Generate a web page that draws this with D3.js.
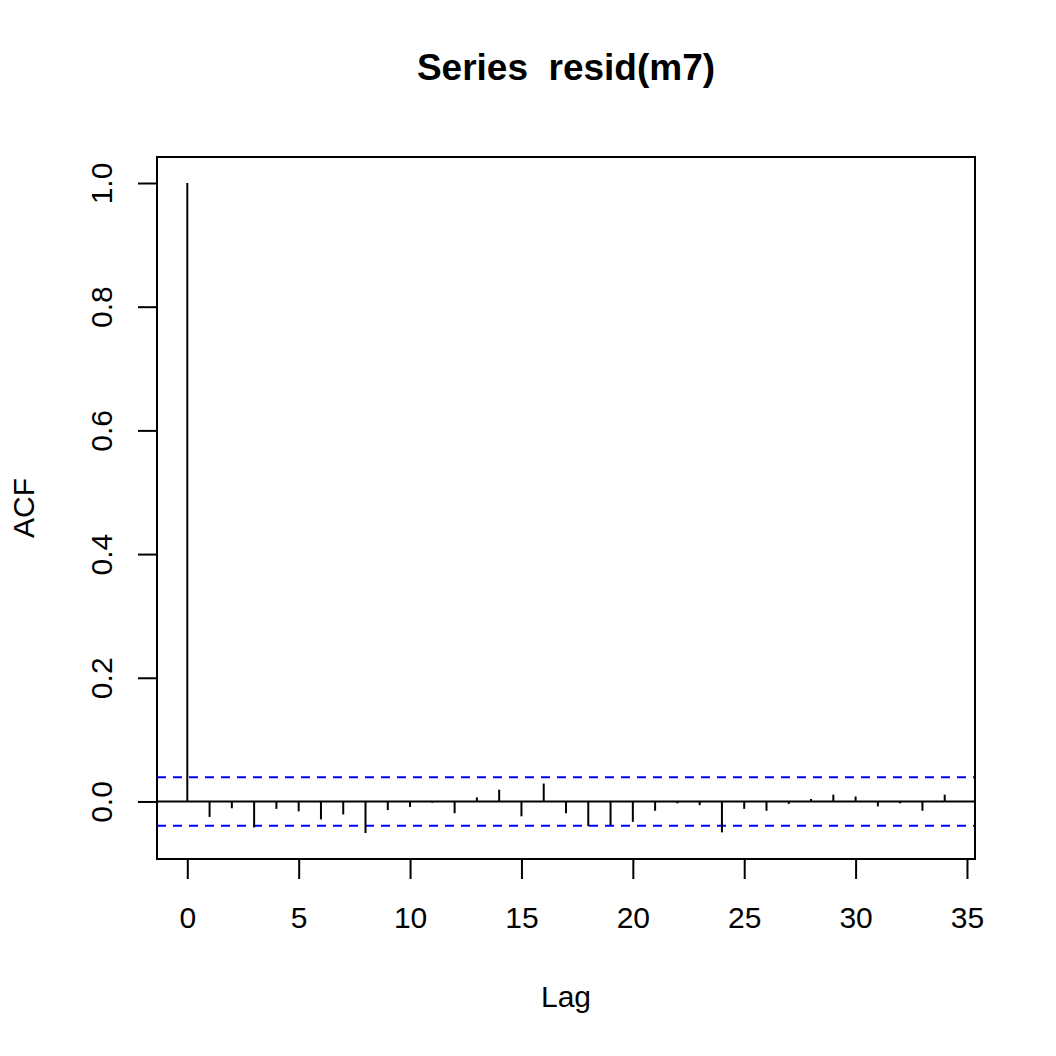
<!DOCTYPE html>
<html>
<head>
<meta charset="utf-8">
<script src="https://cdn.jsdelivr.net/npm/d3@7"></script>
<style>
body { margin: 0; background: #fff; }
text { font-family: "Liberation Sans", Arial, sans-serif; fill: #000; }
</style>
</head>
<body>
<script>
// acf values, lag 0..34
var lags = d3.range(0, 35);
var acfValues = [1.0, -0.025, -0.011, -0.042, -0.012, -0.016, -0.029, -0.021, -0.051, -0.014,
                 -0.009, -0.002, -0.019, 0.0065, 0.019, -0.024, 0.029, -0.019, -0.040, -0.038,
                 -0.033, -0.015, -0.003, -0.006, -0.050, -0.012, -0.015, -0.004, 0.004, 0.011,
                 0.008, -0.008, -0.003, -0.015, 0.011];
var ciLimit = 0.0393;
var xTicks = [0, 5, 10, 15, 20, 25, 30, 35];
var yTicks = [0.0, 0.2, 0.4, 0.6, 0.8, 1.0];
var titleText = 'Series  resid(m7)';

var width = 1056;
var height = 1056;
var pLeft = 157, pRight = 975, pTop = 157, pBottom = 859;

var svg = d3.select('body')
			.append('svg')
			.attr('width', width)
			.attr('height', height);

// R style 4% padding
var xr = d3.extent(lags);
var xpad = (xr[1] - xr[0]) * 0.04;
var xScale = d3.scaleLinear()
				.domain([xr[0] - xpad, xr[1] + xpad])
				.range([pLeft, pRight]);
var yr = [d3.min(acfValues.concat([-ciLimit])), d3.max(acfValues.concat([ciLimit]))];
var ypad = (yr[1] - yr[0]) * 0.04;
var yScale = d3.scaleLinear()
				.domain([yr[0] - ypad, yr[1] + ypad])
				.range([pBottom, pTop]);

// zero line and confidence lines
svg.append('line')
	.attr('x1', pLeft).attr('x2', pRight)
	.attr('y1', yScale(0)).attr('y2', yScale(0))
	.style('stroke', '#000').style('stroke-width', 2);
svg.selectAll('.ci')
	.data([ciLimit, -ciLimit])
	.enter()
	.append('line')
	.attr('x1', pLeft).attr('x2', pRight)
	.attr('y1', (d) => yScale(d)).attr('y2', (d) => yScale(d))
	.style('stroke', '#0000ff')
	.style('stroke-width', 2)
	.style('stroke-dasharray', '9,7');

// spikes
svg.selectAll('.spike')
	.data(lags)
	.enter()
	.append('line')
	.attr('x1', (d) => xScale(d)).attr('x2', (d) => xScale(d))
	.attr('y1', yScale(0))
	.attr('y2', (d, i) => yScale(acfValues[i]))
	.style('stroke', '#000')
	.style('stroke-width', 2);

// axes
var xAxis = svg.append('g')
				.attr('transform', 'translate(0,' + pBottom + ')')
				.call(d3.axisBottom(xScale).tickValues(xTicks).tickSize(20).tickPadding(28).tickFormat(d3.format('d')));
var yAxis = svg.append('g')
				.attr('transform', 'translate(' + pLeft + ',0)')
				.call(d3.axisLeft(yScale).tickValues(yTicks).tickSize(19).tickFormat(d3.format('.1f')));
[xAxis, yAxis].forEach(function(ax) {
	ax.select('.domain').remove();
	ax.selectAll('line').style('stroke', '#000').style('stroke-width', 2);
	ax.selectAll('text').style('font-size', '30px').attr('fill', '#000');
});
xAxis.selectAll('text').attr('dy', '0.71em');
// rotated y labels like R's las=0
yAxis.selectAll('text')
	.attr('x', null)
	.attr('dy', null)
	.attr('text-anchor', 'middle')
	.attr('transform', 'translate(' + (112 - pLeft) + ',0) rotate(-90)');

// box
svg.append('rect')
	.attr('x', pLeft).attr('y', pTop)
	.attr('width', pRight - pLeft).attr('height', pBottom - pTop)
	.style('fill', 'none').style('stroke', '#000').style('stroke-width', 2);

// titles
svg.append('text')
	.attr('x', (pLeft + pRight) / 2).attr('y', 80)
	.attr('text-anchor', 'middle')
	.style('font-size', '37px').style('font-weight', 'bold')
	.style('white-space', 'pre')
	.text(titleText);
svg.append('text')
	.attr('x', (pLeft + pRight) / 2).attr('y', 1007)
	.attr('text-anchor', 'middle')
	.style('font-size', '30px')
	.text('Lag');
svg.append('text')
	.attr('transform', 'translate(34,' + (pTop + pBottom) / 2 + ') rotate(-90)')
	.attr('text-anchor', 'middle')
	.style('font-size', '30px')
	.text('ACF');
</script>
</body>
</html>
